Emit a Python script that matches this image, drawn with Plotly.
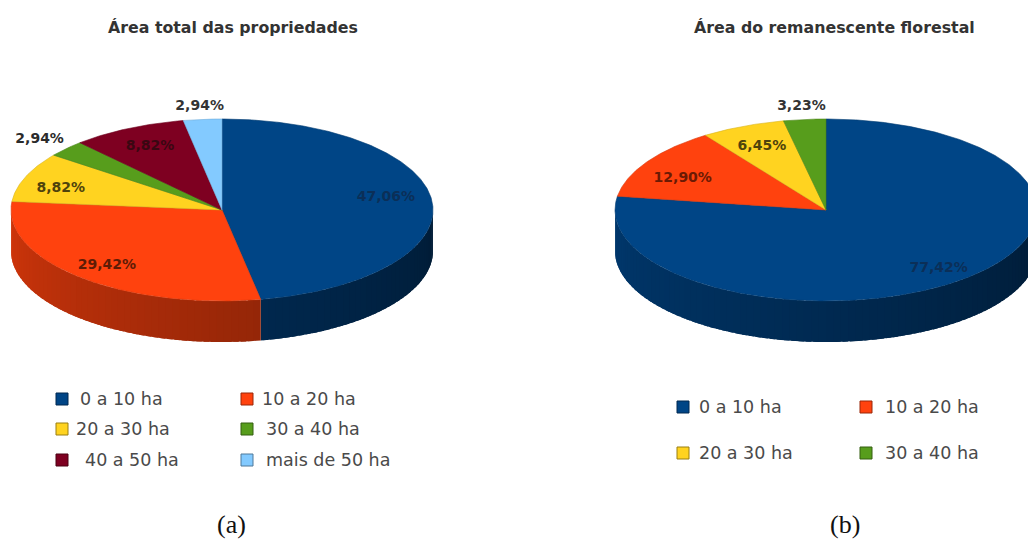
import numpy as np
import plotly.graph_objects as go

# ---- data ----
categories_a = ["0 a 10 ha", "10 a 20 ha", "20 a 30 ha", "30 a 40 ha", "40 a 50 ha", "mais de 50 ha"]
values_a = [47.06, 29.42, 8.82, 2.94, 8.82, 2.94]
labels_a = ["47,06%", "29,42%", "8,82%", "2,94%", "8,82%", "2,94%"]

categories_b = ["0 a 10 ha", "10 a 20 ha", "20 a 30 ha", "30 a 40 ha"]
values_b = [77.42, 12.90, 6.45, 3.23]
labels_b = ["77,42%", "12,90%", "6,45%", "3,23%"]

title_a = "Área total das propriedades"
title_b = "Área do remanescente florestal"

# ---- style ----
COLORS = ["#004586", "#FF420E", "#FFD320", "#579D1C", "#7E0021", "#83CAFF"]
RX, RY, DEPTH = 211, 91, 41
CENTER_A = (222, 210)
CENTER_B = (826, 210)
# radial placement factor, vertical nudge, text colour per label
LABEL_STYLE_A = [(0.78, -6, "#0b2f58"), (0.81, 1, "#5e1c06"), (0.82, 5, "#4f430c"),
                 (1.17, 1, "#2b2b2b"), (0.766, -1, "#3a0712"), (1.148, 1, "#333333")]
LABEL_STYLE_B = [(0.82, 2, "#0b2f58"), (0.80, 7, "#6b1a04"), (0.77, 1, "#4f430c"), (1.15, 1, "#333333")]
LEGEND_A = [(62, 78, 399), (247, 260, 399), (62, 74, 429), (247, 264, 429), (62, 83, 460), (247, 264, 460)]
LEGEND_B = [(683, 697, 407), (866, 883, 407), (683, 697, 453), (866, 883, 453)]


def shade(hex_color, factor):
    r, g, b = (int(hex_color[i:i + 2], 16) for i in (1, 3, 5))
    return f"rgb({int(r * factor)},{int(g * factor)},{int(b * factor)})"


fig = go.Figure()


def add_pie(center, values, labels, styles, names):
    cx, cy = center
    total = sum(values)
    edges = np.concatenate([[0], np.cumsum(values)]) / total * 360.0
    px = lambda a: cx + RX * np.sin(np.radians(a))
    py = lambda a: cy - RY * np.cos(np.radians(a))

    # side wall: only the front half (90 to 270 degrees clockwise from the top)
    for i in range(len(values)):
        lo, hi = max(edges[i], 90.0), min(edges[i + 1], 270.0)
        if hi <= lo:
            continue
        steps = max(1, int((hi - lo) / 2))
        cuts = np.linspace(lo, hi, steps + 1)
        for a0, a1 in zip(cuts[:-1], cuts[1:]):
            arc = np.linspace(a0, min(a1 + 1.5, hi), 4)
            t = (270.0 - (a0 + a1) / 2) / 180.0
            col = shade(COLORS[i], 0.82 - 0.42 * t)
            xs = np.concatenate([px(arc), px(arc[::-1])])
            ys = np.concatenate([py(arc), py(arc[::-1]) + DEPTH])
            fig.add_trace(go.Scatter(x=xs, y=ys, mode="none", fill="toself", fillcolor=col,
                                     hoverinfo="skip", showlegend=False))

    # top face
    for i in range(len(values)):
        arc = np.linspace(edges[i], edges[i + 1], max(3, int(edges[i + 1] - edges[i]) * 2))
        xs = np.concatenate([[cx], px(arc), [cx]])
        ys = np.concatenate([[cy], py(arc), [cy]])
        fig.add_trace(go.Scatter(x=xs, y=ys, mode="lines", fill="toself", fillcolor=COLORS[i],
                                 line=dict(color=shade(COLORS[i], 0.85), width=0.6),
                                 name=names[i], hoverinfo="name", showlegend=False))

    # data labels
    for i, (text, (f, dy, col)) in enumerate(zip(labels, styles)):
        mid = (edges[i] + edges[i + 1]) / 2
        fig.add_trace(go.Scatter(x=[cx + RX * f * np.sin(np.radians(mid))],
                                 y=[cy - RY * f * np.cos(np.radians(mid)) + dy],
                                 mode="text", text=[text], textposition="middle center",
                                 textfont=dict(family="DejaVu Sans", size=14, color=col, weight="bold"),
                                 hoverinfo="skip", showlegend=False))


def add_legend(names, slots):
    for i, (name, (mx, tx, y)) in enumerate(zip(names, slots)):
        fig.add_trace(go.Scatter(x=[mx], y=[y], mode="markers",
                                 marker=dict(symbol="square", size=12, color=COLORS[i],
                                             line=dict(color=shade(COLORS[i], 0.6), width=1)),
                                 name=name, hoverinfo="name", showlegend=False))
        fig.add_annotation(x=tx, y=y, text=name, showarrow=False, xanchor="left", yanchor="middle",
                           font=dict(family="DejaVu Sans", size=17.5, color="#4a4a4a"))


add_pie(CENTER_A, values_a, labels_a, LABEL_STYLE_A, categories_a)
add_pie(CENTER_B, values_b, labels_b, LABEL_STYLE_B, categories_b)
add_legend(categories_a, LEGEND_A)
add_legend(categories_b, LEGEND_B)

for x, text in ((233, title_a), (834, title_b)):
    fig.add_annotation(x=x, y=27, text=f"<b>{text}</b>", showarrow=False, xanchor="center", yanchor="middle",
                       font=dict(family="DejaVu Sans", size=15.8, color="#333333"))
for x, text in ((231, "(a)"), (845, "(b)")):
    fig.add_annotation(x=x, y=524, text=text, showarrow=False, xanchor="center", yanchor="middle",
                       font=dict(family="Liberation Serif", size=26, color="#111111"))

fig.update_layout(width=1028, height=540, margin=dict(l=0, r=0, t=0, b=0),
                  paper_bgcolor="white", plot_bgcolor="white", showlegend=False,
                  xaxis=dict(range=[0, 1028], visible=False, fixedrange=True),
                  yaxis=dict(range=[540, 0], visible=False, fixedrange=True))
fig.write_html("out.html", config={"displayModeBar": False},
               post_script="document.body.style.margin='0';document.body.style.overflow='hidden';")
